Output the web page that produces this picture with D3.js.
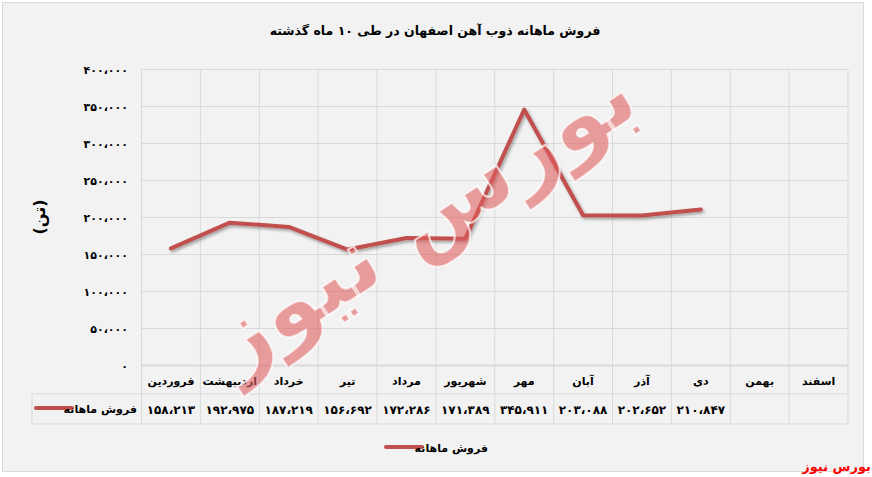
<!DOCTYPE html>
<html><head><meta charset="utf-8">
<script src="https://cdn.jsdelivr.net/npm/d3@7"></script>
<style>
html,body{margin:0;padding:0;background:#fff;}
text{font-family:"DejaVu Sans",sans-serif;font-weight:bold;}
</style></head>
<body><svg id="c" width="872" height="477"></svg>
<script>
const title = "فروش ماهانه ذوب آهن اصفهان در طی ۱۰ ماه گذشته";
const months = ["فروردین","اردیبهشت","خرداد","تیر","مرداد","شهریور","مهر","آبان","آذر","دی","بهمن","اسفند"];
const sales = [158213,192975,187219,156692,172286,171389,345911,203088,202652,210847,null,null];
const seriesName = "فروش ماهانه";
const unitLabel = "(تن)";
const yTicks = [0,50000,100000,150000,200000,250000,300000,350000,400000];
const sourceLabel = "بورس نیوز";

const fa = s => String(s).replace(/\d/g, d => "۰۱۲۳۴۵۶۷۸۹"[+d]).replace(/,/g, "،");
const fmt = v => v == null ? "" : fa(d3.format(",")(v));

const svg = d3.select("#c");
const defs = svg.append("defs");
const f = defs.append("filter").attr("id","sh").attr("x","-10%").attr("y","-10%").attr("width","120%").attr("height","130%");
f.append("feDropShadow").attr("dx",1.5).attr("dy",2).attr("stdDeviation",1.5).attr("flood-color","#000").attr("flood-opacity",0.35);

svg.append("rect").attr("x",2.5).attr("y",2.5).attr("width",861).attr("height",469)
  .attr("fill","#f2f2f2").attr("stroke","#d9d9d9").attr("stroke-width",1);

const L = 141.5, R = 848, T = 69.5, B = 365.5;
const x = d3.scaleBand().domain(months).range([L, R]);
const y = d3.scaleLinear().domain([0, 400000]).range([B, T]);

// gridlines
const g = svg.append("g");
g.selectAll("line.h").data(yTicks).join("line")
  .attr("x1", L).attr("x2", R).attr("y1", d => y(d)).attr("y2", d => y(d))
  .attr("stroke", "#d9d9d9").attr("stroke-width", d => d === 0 ? 2 : 1);
const bounds = months.map(m => x(m)).concat([R]);
g.selectAll("line.v").data(bounds).join("line")
  .attr("x1", d => d).attr("x2", d => d).attr("y1", T).attr("y2", 424)
  .attr("stroke", "#d9d9d9").attr("stroke-width", 1);

// y axis labels
const yAxis = svg.append("g").attr("transform", `translate(${128},0)`)
  .call(d3.axisLeft(y).tickValues(yTicks).tickSize(0).tickPadding(0).tickFormat(d => fa(d3.format(",")(d))));
yAxis.select(".domain").remove();
yAxis.selectAll("text").attr("font-size", 11).attr("fill", "#000")
  .attr("font-family", "DejaVu Sans").attr("font-weight", "bold");

svg.append("text").attr("transform", "translate(40,217) rotate(-90)")
  .attr("text-anchor", "middle").attr("dominant-baseline", "middle")
  .attr("font-size", 16).text(unitLabel);

// table
svg.append("line").attr("x1", L).attr("x2", R).attr("y1", 394).attr("y2", 394).attr("stroke", "#d9d9d9");
svg.append("line").attr("x1", 32).attr("x2", L).attr("y1", 394).attr("y2", 394).attr("stroke", "#d9d9d9");
svg.append("line").attr("x1", 32).attr("x2", R).attr("y1", 424).attr("y2", 424).attr("stroke", "#d9d9d9");
svg.append("line").attr("x1", 32).attr("x2", 32).attr("y1", 394).attr("y2", 424).attr("stroke", "#d9d9d9");

svg.append("g").selectAll("text").data(months).join("text")
  .attr("x", d => x(d) + x.bandwidth()/2).attr("y", 385)
  .attr("text-anchor", "middle").attr("font-size", 11).text(d => d);
svg.append("g").selectAll("text").data(sales).join("text")
  .attr("x", (d,i) => x(months[i]) + x.bandwidth()/2).attr("y", 414)
  .attr("text-anchor", "middle").attr("font-size", 12).text(d => fmt(d));

svg.append("line").attr("x1", 36).attr("x2", 72).attr("y1", 408).attr("y2", 408)
  .attr("stroke", "#c0504d").attr("stroke-width", 4).attr("stroke-linecap", "round");
svg.append("text").attr("x", 137).attr("y", 413).attr("text-anchor", "end").attr("font-size", 11).text(seriesName);

// line
const line = d3.line().defined(d => d != null)
  .x((d,i) => x(months[i]) + x.bandwidth()/2).y(d => y(d));
svg.append("path").attr("d", line(sales)).attr("fill", "none")
  .attr("stroke", "#c0504d").attr("stroke-width", 4).attr("stroke-linejoin", "round")
  .attr("stroke-linecap", "round").attr("filter", "url(#sh)");

// watermark
svg.append("text").attr("transform", "translate(425,222) rotate(-33)")
  .attr("text-anchor", "middle").attr("dominant-baseline", "middle")
  .attr("font-size", 92).attr("fill", "#e06060").attr("fill-opacity", 0.6)
  .attr("stroke", "#fff").attr("stroke-opacity", 0.7).attr("stroke-width", 2)
  .text(sourceLabel);

// title
svg.append("text").attr("x", 435).attr("y", 35).attr("text-anchor", "middle")
  .attr("font-size", 12.5).text(title);

// legend
svg.append("line").attr("x1", 386).attr("x2", 422).attr("y1", 447).attr("y2", 447)
  .attr("stroke", "#c0504d").attr("stroke-width", 4).attr("stroke-linecap", "round");
svg.append("text").attr("x", 488).attr("y", 452).attr("text-anchor", "end").attr("font-size", 11).text(seriesName);

// source
svg.append("text").attr("x", 871).attr("y", 471).attr("text-anchor", "end")
  .attr("font-size", 13).attr("fill", "#ff0000").text(sourceLabel);
</script></body></html>
